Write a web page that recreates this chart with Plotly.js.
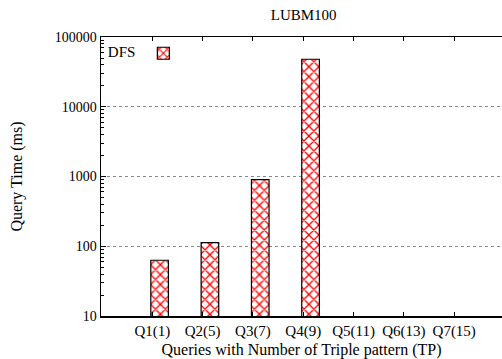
<!DOCTYPE html>
<html>
<head>
<meta charset="utf-8">
<script src="https://cdn.plot.ly/plotly-3.0.1.min.js"></script>
<style>html,body{margin:0;padding:0;background:#fff;}#chart{width:502px;height:359px;}</style>
</head>
<body>
<div id="chart"></div>
<script>
const categories = ["Q1(1)", "Q2(5)", "Q3(7)", "Q4(9)", "Q5(11)", "Q6(13)", "Q7(15)"];
const dfsValues = [63, 113, 900, 48000, null, null, null];
const seriesName = "DFS";
const yTickVals = [10, 100, 1000, 10000, 100000];
const yTickText = ["10", "100", "1000", "10000", "100000"];

const serif = "'Liberation Serif', 'DejaVu Serif', serif";

// minor tick positions (2..9 within each decade)
const minorVals = [];
for (let d = 0; d < yTickVals.length - 1; d++) {
  for (let m = 2; m <= 9; m++) minorVals.push(yTickVals[d] * m);
}

const trace = {
  type: "bar",
  x: categories,
  y: dfsValues,
  name: "",
  offset: -0.03,
  width: 0.35,
  marker: {
    color: "white",
    line: {color: "#000", width: 1.2},
    pattern: {shape: "x", fgcolor: "#ff0000", bgcolor: "white", size: 7, solidity: 0.35}
  },
  showlegend: true
};

const layout = {
  width: 502, height: 359,
  margin: {l: 101, r: 0, t: 37, b: 43},
  paper_bgcolor: "white", plot_bgcolor: "white",
  font: {family: serif, size: 14, color: "#000"},
  title: {text: "LUBM100", x: 0.605, xanchor: "center", y: 0.96, yanchor: "middle", font: {family: serif, size: 15}},
  showlegend: true,
  legend: {
    x: 0.012, y: 1.0, xanchor: "left", yanchor: "top",
    bgcolor: "rgba(0,0,0,0)", borderwidth: 0,
    title: {text: seriesName, side: "left", font: {family: serif, size: 15}},
    font: {family: serif, size: 15},
    itemwidth: 30
  },
  xaxis: {
    type: "category",
    range: [-1.02, 6.95],
    showline: true, linecolor: "#000", linewidth: 1.5,
    mirror: "ticks",
    ticks: "inside", ticklen: 4, tickcolor: "#000", tickwidth: 1,
    showgrid: false, zeroline: false,
    tickfont: {family: serif, size: 15},
    title: {text: "Queries with Number of Triple pattern (TP)", font: {family: serif, size: 16}, standoff: 9}
  },
  yaxis: {
    type: "log",
    range: [1, 5],
    tickvals: yTickVals, ticktext: yTickText,
    showline: true, linecolor: "#000", linewidth: 1.5,
    ticks: "inside", ticklen: 5, tickcolor: "#000",
    showgrid: true, gridcolor: "#888", griddash: "dot", gridwidth: 1,
    zeroline: false,
    minor: {tickmode: "array", tickvals: minorVals, ticks: "inside", ticklen: 3, tickcolor: "#000", showgrid: false},
    tickfont: {family: serif, size: 14},
    title: {text: "Query Time (ms)", font: {family: serif, size: 16}, standoff: 28}
  },
  bargap: 0
};

Plotly.newPlot("chart", [trace], layout, {displayModeBar: false, staticPlot: true});
</script>
</body>
</html>
